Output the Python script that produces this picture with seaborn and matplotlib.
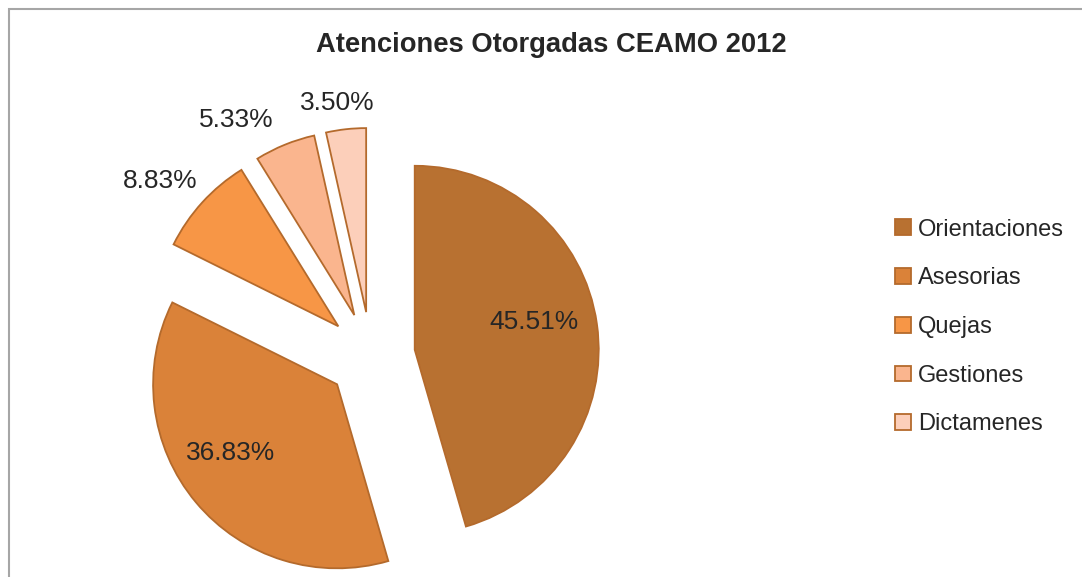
import numpy as np
import seaborn as sns
import matplotlib.pyplot as plt
from matplotlib.patches import Rectangle

categories = ["Orientaciones", "Asesorias", "Quejas", "Gestiones", "Dictamenes"]
percentages = [45.51, 36.83, 8.83, 5.33, 3.50]
pct_labels = ["45.51%", "36.83%", "8.83%", "5.33%", "3.50%"]
title = "Atenciones Otorgadas CEAMO 2012"

colors = ["#B87131", "#DA8239", "#F79646", "#FAB58E", "#FCCFBA"]
edge = "#B46A2C"
# label placement per slice: distance (in radii) and small angle nudge
label_dist = [0.665, 0.69, 1.25, 1.24, 1.145]
label_nudge = [5, -7, 3, 9, 1.5]

sns.set_theme(style="white")
plt.rcParams["font.family"] = ["Liberation Sans Narrow", "Liberation Sans", "DejaVu Sans"]

fig = plt.figure(figsize=(10.82, 5.77), dpi=100)
fig.patch.set_facecolor("white")

# outer chart frame (gray border)
fig.patches.append(Rectangle((9 / 1082, -0.05), 1.2, (577 - 9) / 577 + 0.05,
                             transform=fig.transFigure, fill=False,
                             edgecolor="#A6A6A6", linewidth=1.5))

# pie radius 184 px, centre at (371, 356) px; limits +-1.6 radii
lim = 1.6
half = lim * 184
ax = fig.add_axes([(371 - half) / 1082, (577 - 356 - half) / 577,
                   2 * half / 1082, 2 * half / 577])

wedges, _ = ax.pie(percentages, colors=colors, startangle=90, counterclock=False,
                   explode=[0.24] * len(percentages), radius=1.0,
                   wedgeprops=dict(edgecolor=edge, linewidth=1.3))
ax.set_xlim(-lim, lim)
ax.set_ylim(-lim, lim)
ax.set_aspect("equal")
ax.axis("off")

for w, lab, d, nd in zip(wedges, pct_labels, label_dist, label_nudge):
    mid = np.deg2rad((w.theta1 + w.theta2) / 2 + nd)
    cx, cy = w.center
    ax.text(cx + d * np.cos(mid), cy + d * np.sin(mid), lab,
            ha="center", va="center", fontsize=19, color="#262626")

fig.text(551 / 1082, 1 - 45 / 577, title, ha="center", va="center",
         fontsize=19.7, fontweight="bold", color="#262626")

fig.legend(wedges, categories, loc="center left",
           bbox_to_anchor=(874 / 1082, 1 - 327 / 577), frameon=False,
           fontsize=17, labelspacing=1.13, handlelength=0.65, handleheight=0.65,
           handletextpad=0.3, labelcolor="#262626")

fig.savefig("out.png", dpi=100)
